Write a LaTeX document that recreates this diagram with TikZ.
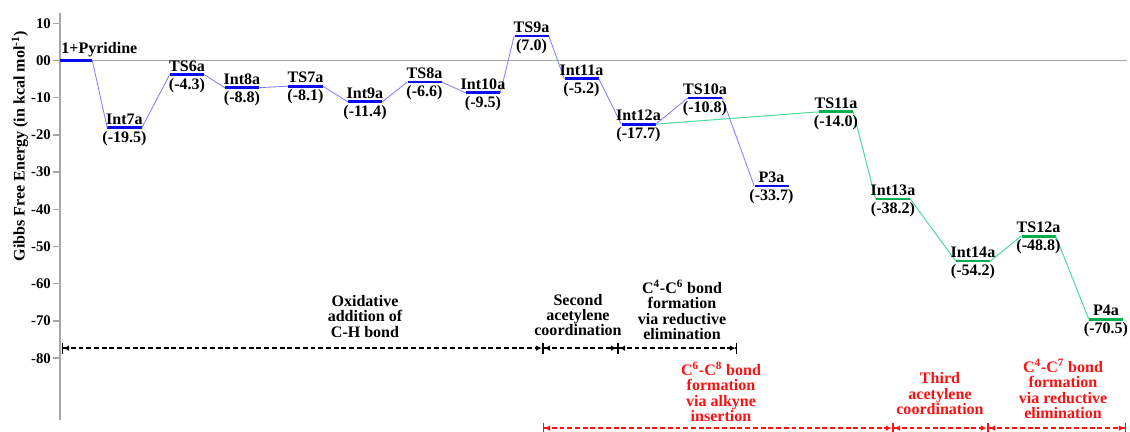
\documentclass[tikz,border=0pt]{standalone}
\usepackage{fontspec}
\setmainfont{Liberation Serif}
\usetikzlibrary{arrows.meta,positioning}
\definecolor{axisgray}{HTML}{A6A6A6}
\definecolor{lvblue}{HTML}{0A0AF0}
\definecolor{lnblue}{HTML}{8080FF}
\definecolor{lvgreen}{HTML}{00B050}
\definecolor{lngreen}{HTML}{4CD99A}
\definecolor{phred}{HTML}{FF1010}
\tikzset{
  every node/.style={font=\bfseries\fontsize{11.4}{11}\selectfont},
  lvl/.style={fill=lvblue,minimum width=0.85cm,minimum height=0.07cm,inner sep=0pt},
  lvlg/.style={lvl,fill=lvgreen},
  nm/.style={inner sep=1pt},
  val/.style={inner sep=1pt},
  axis/.style={draw=axisgray,line width=1pt},
  ticklab/.style={anchor=east,inner sep=1pt,font=\bfseries\fontsize{10.5}{12}\selectfont},
  blueline/.style={draw=lnblue,line width=0.6pt},
  greenline/.style={draw=lngreen,line width=0.7pt},
  phtext/.style={align=center,inner sep=0pt},
  phase/.style={dashed,dash pattern=on 3.5pt off 2pt,line width=1pt,
    {Bar[width=8pt]Latex[length=4pt,width=4pt]}-{Latex[length=4pt,width=4pt]Bar[width=8pt]}},
}

\begin{document}
\begin{tikzpicture}[x=0.025cm,y=0.093cm]
\useasboundingbox (0,16.26) rectangle (1130,-99.6);
% axes
\coordinate (ytop) at (60,12.8);
\coordinate (ybot) at (60,-96.6);
\coordinate (zero) at (60,0);
\coordinate (zend) at (1127,0);
\draw[axis] (ytop) -- (ybot);
\draw[axis] (zero) -- (zend);
\foreach \v/\t in {10/10,0/00,-10/-10,-20/-20,-30/-30,-40/-40,-50/-50,-60/-60,-70/-70,-80/-80}{
  \draw[axis] (53,\v) -- (60,\v);
  \node[ticklab] (tick\t) at (52.5,\v) {\t};
}
\node[rotate=90] (ylab) at (20,-23) {Gibbs Free Energy (in kcal mol\textsuperscript{-1})};

% levels
\node[lvl,minimum width=0.8cm] (pyr) at (76,0) {};
\node[lvl] (int7a) at (124.5,-18.1) {};
\node[lvl] (ts6a) at (187,-3.8) {};
\node[lvl] (int8a) at (242,-7.3) {};
\node[lvl] (ts7a) at (305.5,-6.9) {};
\node[lvl] (int9a) at (365,-11.1) {};
\node[lvl] (ts8a) at (424.5,-5.8) {};
\node[lvl] (int10a) at (483,-8.7) {};
\node[lvl] (ts9a) at (531.5,6.6) {};
\node[lvl] (int11a) at (581.5,-4.9) {};
\node[lvl] (int12a) at (638.5,-17.1) {};
\node[lvl] (ts10a) at (705,-10.1) {};
\node[lvl] (p3a) at (771.5,-33.7) {};
\node[lvlg] (ts11a) at (836,-13.8) {};
\node[lvlg] (int13a) at (893,-37.2) {};
\node[lvlg] (int14a) at (973,-53.9) {};
\node[lvlg] (ts12a) at (1038.5,-47.2) {};
\node[lvlg] (p4a) at (1106,-69.5) {};

% connectors
\draw[blueline] (pyr.east) -- (int7a.west) (int7a.east) -- (ts6a.west)
  (ts6a.east) -- (int8a.west) (int8a.east) -- (ts7a.west)
  (ts7a.east) -- (int9a.west) (int9a.east) -- (ts8a.west)
  (ts8a.east) -- (int10a.west) (int10a.east) -- (ts9a.west)
  (ts9a.east) -- (int11a.west) (int11a.east) -- (int12a.west)
  (int12a.east) -- (ts10a.west) (ts10a.east) -- (p3a.west);
\draw[greenline] (int12a.east) -- (ts11a.west) (ts11a.east) -- (int13a.west)
  (int13a.east) -- (int14a.west) (int14a.east) -- (ts12a.west)
  (ts12a.east) -- (p4a.west);

% labels
\node[nm,anchor=south west] (pyr-n) at (pyr.north west) {1+Pyridine};
\node[nm,above=0pt of int7a] (int7a-n) {Int7a};
\node[val,below=0pt of int7a] (int7a-v) {(-19.5)};
\node[nm,above=0pt of ts6a] (ts6a-n) {TS6a};
\node[val,below=0pt of ts6a] (ts6a-v) {(-4.3)};
\node[nm,above=0pt of int8a] (int8a-n) {Int8a};
\node[val,below=0pt of int8a] (int8a-v) {(-8.8)};
\node[nm,above=0pt of ts7a] (ts7a-n) {TS7a};
\node[val,below=0pt of ts7a] (ts7a-v) {(-8.1)};
\node[nm,above=0pt of int9a] (int9a-n) {Int9a};
\node[val,below=0pt of int9a] (int9a-v) {(-11.4)};
\node[nm,above=0pt of ts8a] (ts8a-n) {TS8a};
\node[val,below=0pt of ts8a] (ts8a-v) {(-6.6)};
\node[nm,above=0pt of int10a] (int10a-n) {Int10a};
\node[val,below=0pt of int10a] (int10a-v) {(-9.5)};
\node[nm,above=0pt of ts9a] (ts9a-n) {TS9a};
\node[val,below=0pt of ts9a] (ts9a-v) {(7.0)};
\node[nm,above=0pt of int11a] (int11a-n) {Int11a};
\node[val,below=0pt of int11a] (int11a-v) {(-5.2)};
\node[nm,above=0pt of int12a] (int12a-n) {Int12a};
\node[val,below=0pt of int12a] (int12a-v) {(-17.7)};
\node[nm,above=0pt of ts10a] (ts10a-n) {TS10a};
\node[val,below=0pt of ts10a] (ts10a-v) {(-10.8)};
\node[nm,above=0pt of p3a] (p3a-n) {P3a};
\node[val,below=0pt of p3a] (p3a-v) {(-33.7)};
\node[nm,above=0pt of ts11a] (ts11a-n) {TS11a};
\node[val,below=0pt of ts11a] (ts11a-v) {(-14.0)};
\node[nm,above=0pt of int13a] (int13a-n) {Int13a};
\node[val,below=0pt of int13a] (int13a-v) {(-38.2)};
\node[nm,above=0pt of int14a] (int14a-n) {Int14a};
\node[val,below=0pt of int14a] (int14a-v) {(-54.2)};
\node[nm,above=0pt of ts12a] (ts12a-n) {TS12a};
\node[val,below=0pt of ts12a] (ts12a-v) {(-48.8)};
\node[nm,above=0pt of p4a] (p4a-n) {P4a};
\node[val,below=0pt of p4a] (p4a-v) {(-70.5)};

% reaction steps
\node[phtext] (oxadd) at (365,-68.7) {Oxidative\\addition of\\C-H bond};
\node[phtext] (coord2) at (578,-68.4) {Second\\acetylene\\coordination};
\node[phtext] (redel1) at (682,-67.1) {C\textsuperscript{4}-C\textsuperscript{6} bond\\formation\\via reductive\\elimination};
\node[phtext,text=phred] (insert) at (721,-89.1) {C\textsuperscript{6}-C\textsuperscript{8} bond\\formation\\via alkyne\\insertion};
\node[phtext,text=phred] (coord3) at (940,-89.5) {Third\\acetylene\\coordination};
\node[phtext,text=phred] (redel2) at (1063,-88.3) {C\textsuperscript{4}-C\textsuperscript{7} bond\\formation\\via reductive\\elimination};

\coordinate (b0) at (62,-77.3);
\coordinate (b1) at (543,-77.3);
\coordinate (b2) at (618,-77.3);
\coordinate (b3) at (737,-77.3);
\coordinate (r0) at (543,-98.8);
\coordinate (r1) at (893,-98.8);
\coordinate (r2) at (988,-98.8);
\coordinate (r3) at (1126,-98.8);
\draw[phase] (b0) -- (b1);
\draw[phase] (b1) -- (b2);
\draw[phase] (b2) -- (b3);
\draw[phase,phred] (r0) -- (r1);
\draw[phase,phred] (r1) -- (r2);
\draw[phase,phred] (r2) -- (r3);
\end{tikzpicture}
\end{document}
